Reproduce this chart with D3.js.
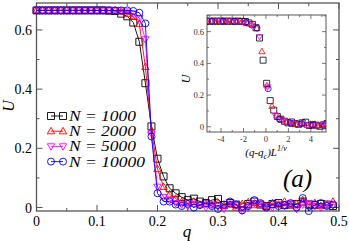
<!DOCTYPE html>
<html>
<head>
<meta charset="utf-8">
<script src="https://cdn.jsdelivr.net/npm/d3@7"></script>
<style>
  body { margin: 0; background: #fff; }
  svg { display: block; }
  text { font-family: "Liberation Serif", "DejaVu Serif", serif; }
</style>
</head>
<body>
<script>
const width = 349;
const height = 241;

// q grid, 0 .. 0.49
const qValues = d3.range(50).map(i => +(i * 0.01).toFixed(2));

const sizes = [1000, 2000, 5000, 10000];

// U(q)
const u1000 = [
    0.666, 0.666, 0.666, 0.666, 0.666, 0.666, 0.666, 0.666, 0.666, 0.666,
    0.666, 0.666, 0.665, 0.664, 0.655, 0.646, 0.625, 0.560, 0.420, 0.274,
    0.165, 0.105, 0.065, 0.048, 0.035, 0.025, 0.030, 0.020, 0.015, 0.025,
    0.029, 0.008, 0.015, 0.010, 0.003, 0.012, 0.020, 0.010, 0.005, 0.012,
    0.015, 0.008, 0.010, 0.012, 0.020, 0.010, 0.008, 0.012, 0.010, 0.005
];
const u2000 = [
    0.666, 0.666, 0.666, 0.666, 0.666, 0.666, 0.666, 0.666, 0.666, 0.666,
    0.666, 0.666, 0.666, 0.666, 0.662, 0.655, 0.645, 0.620, 0.475, 0.260,
    0.130, 0.070, 0.045, 0.030, 0.020, 0.015, 0.020, 0.010, 0.012, 0.008,
    0.015, 0.005, 0.010, 0.000, 0.012, 0.018, 0.008, 0.010, 0.005, 0.015,
    0.010, 0.020, 0.008, 0.012, 0.025, 0.010, 0.015, 0.005, 0.010, 0.020
];
const u5000 = [
    0.666, 0.666, 0.666, 0.666, 0.666, 0.666, 0.666, 0.666, 0.666, 0.666,
    0.666, 0.666, 0.666, 0.666, 0.666, 0.662, 0.655, 0.640, 0.568, 0.250,
    0.070, 0.035, 0.025, 0.015, 0.010, 0.005, 0.012, 0.008, 0.000, 0.010,
    0.005, -0.005, 0.012, 0.008, -0.010, 0.000, 0.015, 0.010, 0.005, 0.000,
    0.010, 0.005, 0.012, -0.005, 0.010, 0.015, 0.005, 0.000, 0.010, 0.008
];
const u10000 = [
    0.666, 0.666, 0.666, 0.666, 0.666, 0.666, 0.666, 0.666, 0.666, 0.666,
    0.666, 0.666, 0.666, 0.666, 0.666, 0.666, 0.664, 0.658, 0.622, 0.240,
    0.048, 0.020, 0.020, 0.010, 0.005, 0.012, 0.000, 0.008, 0.015, 0.005,
    -0.005, 0.010, 0.020, 0.010, -0.010, 0.005, 0.025, 0.015, 0.000, 0.010,
    0.005, 0.008, 0.015, 0.000, 0.032, -0.012, 0.010, 0.015, 0.005, 0.010
];

// finite-size scaling used in the inset: x = (q - qc) * N^(1/nu)
const qc = 0.188;
const nuInv = 0.5;

const xTicks = [0, 0.1, 0.2, 0.3, 0.4, 0.5];
const xTickLabels = ['0', '0.1', '0.2', '0.3', '0.4', '0.5'];
const yTicks = [0, 0.2, 0.4, 0.6];
const yTickLabels = ['0', '0.2', '0.4', '0.6'];
const insetXTicks = [-4, -2, 0, 2, 4];
const insetYTicks = [0, 0.2, 0.4, 0.6];

const series = [
    {n: sizes[0], u: u1000, color: '#000000', shape: 'square'},
    {n: sizes[1], u: u2000, color: '#ff0000', shape: 'up'},
    {n: sizes[2], u: u5000, color: '#ff00ff', shape: 'down'},
    {n: sizes[3], u: u10000, color: '#0000ff', shape: 'circle'}
];

const frameColor = '#555';

const svg = d3.select('body').append('svg')
    .attr('width', width)
    .attr('height', height);

function markerPath(shape, s) {
    const h = s / 2;
    if (shape === 'square') return `M${-h},${-h}H${h}V${h}H${-h}Z`;
    if (shape === 'up') return `M0,${-h * 1.1}L${h * 1.05},${h * 0.75}L${-h * 1.05},${h * 0.75}Z`;
    if (shape === 'down') return `M0,${h * 1.1}L${h * 1.05},${-h * 0.75}L${-h * 1.05},${-h * 0.75}Z`;
    return d3.arc()({innerRadius: 0, outerRadius: h, startAngle: 0, endAngle: 2 * Math.PI});
}

function drawFrame(g, x, y, opt) {
    const [x0, x1] = x.range();
    const [y0, y1] = y.range();
    g.append('rect')
        .attr('x', x0).attr('y', y1)
        .attr('width', x1 - x0).attr('height', y0 - y1)
        .attr('fill', opt.fill || 'none')
        .attr('stroke', frameColor)
        .attr('stroke-width', opt.sw);

    const tk = g.append('g').attr('stroke', frameColor).attr('stroke-width', opt.tsw);
    opt.xMinor.forEach(v => {
        const len = opt.xMajor.some(m => Math.abs(m - v) < 1e-9) ? opt.major : opt.minor;
        tk.append('line').attr('x1', x(v)).attr('x2', x(v)).attr('y1', y0).attr('y2', y0 - len);
        tk.append('line').attr('x1', x(v)).attr('x2', x(v)).attr('y1', y1).attr('y2', y1 + len);
    });
    opt.yMinor.forEach(v => {
        const len = opt.yMajor.some(m => Math.abs(m - v) < 1e-9) ? opt.major : opt.minor;
        tk.append('line').attr('y1', y(v)).attr('y2', y(v)).attr('x1', x0).attr('x2', x0 + len);
        tk.append('line').attr('y1', y(v)).attr('y2', y(v)).attr('x1', x1).attr('x2', x1 - len);
    });
}

// ---------- main panel ----------
const x = d3.scaleLinear().domain([0, 0.5]).range([36.5, 339]);
const y = d3.scaleLinear().domain([-0.0118, 0.691]).range([211, 3]);

const main = svg.append('g');

drawFrame(main, x, y, {
    sw: 1.3, tsw: 1, major: 6, minor: 3,
    xMajor: xTicks, xMinor: d3.range(0, 0.501, 0.05),
    yMajor: yTicks, yMinor: d3.range(0, 0.61, 0.1)
});

main.append('g').selectAll('text')
    .data(xTicks)
    .join('text')
    .attr('x', d => x(d))
    .attr('y', 226)
    .attr('text-anchor', 'middle')
    .attr('font-size', 14)
    .text((d, i) => xTickLabels[i]);

main.append('g').selectAll('text')
    .data(yTicks)
    .join('text')
    .attr('x', 32)
    .attr('y', d => y(d) + 5)
    .attr('text-anchor', 'end')
    .attr('font-size', 14)
    .text((d, i) => yTickLabels[i]);

main.append('text')
    .attr('transform', 'translate(14,106) rotate(-90)')
    .attr('text-anchor', 'middle')
    .attr('font-size', 16)
    .attr('font-style', 'italic')
    .text('U');

main.append('text')
    .attr('x', 187)
    .attr('y', 237)
    .attr('text-anchor', 'middle')
    .attr('font-size', 17)
    .attr('font-style', 'italic')
    .text('q');

const line = d3.line()
    .x(d => x(d[0]))
    .y(d => y(d[1]));

series.forEach(s => {
    const pts = qValues.map((q, i) => [q, s.u[i]]);
    const g = main.append('g');
    g.append('path')
        .attr('d', line(pts))
        .attr('fill', 'none')
        .attr('stroke', s.color)
        .attr('stroke-width', 0.9);
    g.selectAll('path.m')
        .data(pts)
        .join('path')
        .attr('class', 'm')
        .attr('transform', d => `translate(${x(d[0])},${y(d[1])})`)
        .attr('d', markerPath(s.shape, 7))
        .attr('fill', 'none')
        .attr('stroke', s.color)
        .attr('stroke-width', 0.9);
});

// legend
const legend = main.append('g');
series.forEach((s, i) => {
    const ly = 116 + i * 15.2;
    legend.append('line')
        .attr('x1', 51).attr('x2', 63)
        .attr('y1', ly).attr('y2', ly)
        .attr('stroke', s.color).attr('stroke-width', 0.9);
    [51, 63].forEach(lx => {
        legend.append('path')
            .attr('transform', `translate(${lx},${ly})`)
            .attr('d', markerPath(s.shape, 7))
            .attr('fill', 'none')
            .attr('stroke', s.color)
            .attr('stroke-width', 0.9);
    });
    legend.append('text')
        .attr('x', 69)
        .attr('y', ly + 5)
        .attr('font-size', 14)
        .attr('textLength', i === 3 ? 76 : 67)
        .attr('lengthAdjust', 'spacingAndGlyphs')
        .attr('font-style', 'italic')
        .text(`N = ${s.n}`);
});

main.append('text')
    .attr('x', 283)
    .attr('y', 187)
    .attr('font-size', 25)
    .attr('font-style', 'italic')
    .text('(a)');

// ---------- inset ----------
const ix = d3.scaleLinear().domain([-5.25, 5.35]).range([207, 326]);
const iy = d3.scaleLinear().domain([-0.033, 0.705]).range([132, 15]);

const inset = svg.append('g');

drawFrame(inset, ix, iy, {
    fill: '#fff', sw: 1, tsw: 0.8, major: 4, minor: 2,
    xMajor: insetXTicks, xMinor: d3.range(-5, 5.01, 1),
    yMajor: insetYTicks, yMinor: d3.range(0, 0.71, 0.1)
});

inset.append('g').selectAll('text')
    .data(insetXTicks)
    .join('text')
    .attr('x', d => ix(d))
    .attr('y', 142)
    .attr('text-anchor', 'middle')
    .attr('font-size', 8.5)
    .attr('fill', '#333')
    .text(d => d);

inset.append('g').selectAll('text')
    .data(insetYTicks)
    .join('text')
    .attr('x', 204)
    .attr('y', d => iy(d) + 3)
    .attr('text-anchor', 'end')
    .attr('font-size', 8.5)
    .attr('fill', '#333')
    .text(d => d === 0 ? '0' : d.toFixed(1));

inset.append('text')
    .attr('transform', 'translate(190,79) rotate(-90)')
    .attr('text-anchor', 'middle')
    .attr('font-size', 12)
    .attr('font-style', 'italic')
    .text('U');

const xl = inset.append('text')
    .attr('x', 266)
    .attr('y', 156)
    .attr('text-anchor', 'middle')
    .attr('font-size', 11)
    .attr('font-style', 'italic');
xl.append('tspan').text('(q-q');
xl.append('tspan').attr('font-size', 8).attr('dy', 3).text('c');
xl.append('tspan').attr('dy', -3).text(')L');
xl.append('tspan').attr('font-size', 8).attr('dy', -5).text('1/ν');

svg.append('clipPath').attr('id', 'insetClip')
    .append('rect')
    .attr('x', 207).attr('y', 15)
    .attr('width', 119).attr('height', 117);

const insetPts = inset.append('g').attr('clip-path', 'url(#insetClip)');
series.forEach(s => {
    const scale = Math.pow(s.n, nuInv);
    const pts = qValues.map((q, i) => [(q - qc) * scale, s.u[i]]);
    insetPts.append('g').selectAll('path')
        .data(pts)
        .join('path')
        .attr('transform', d => `translate(${ix(d[0])},${iy(d[1])})`)
        .attr('d', markerPath(s.shape, 6))
        .attr('fill', 'none')
        .attr('stroke', s.color)
        .attr('stroke-width', 0.8);
});
</script>
</body>
</html>
